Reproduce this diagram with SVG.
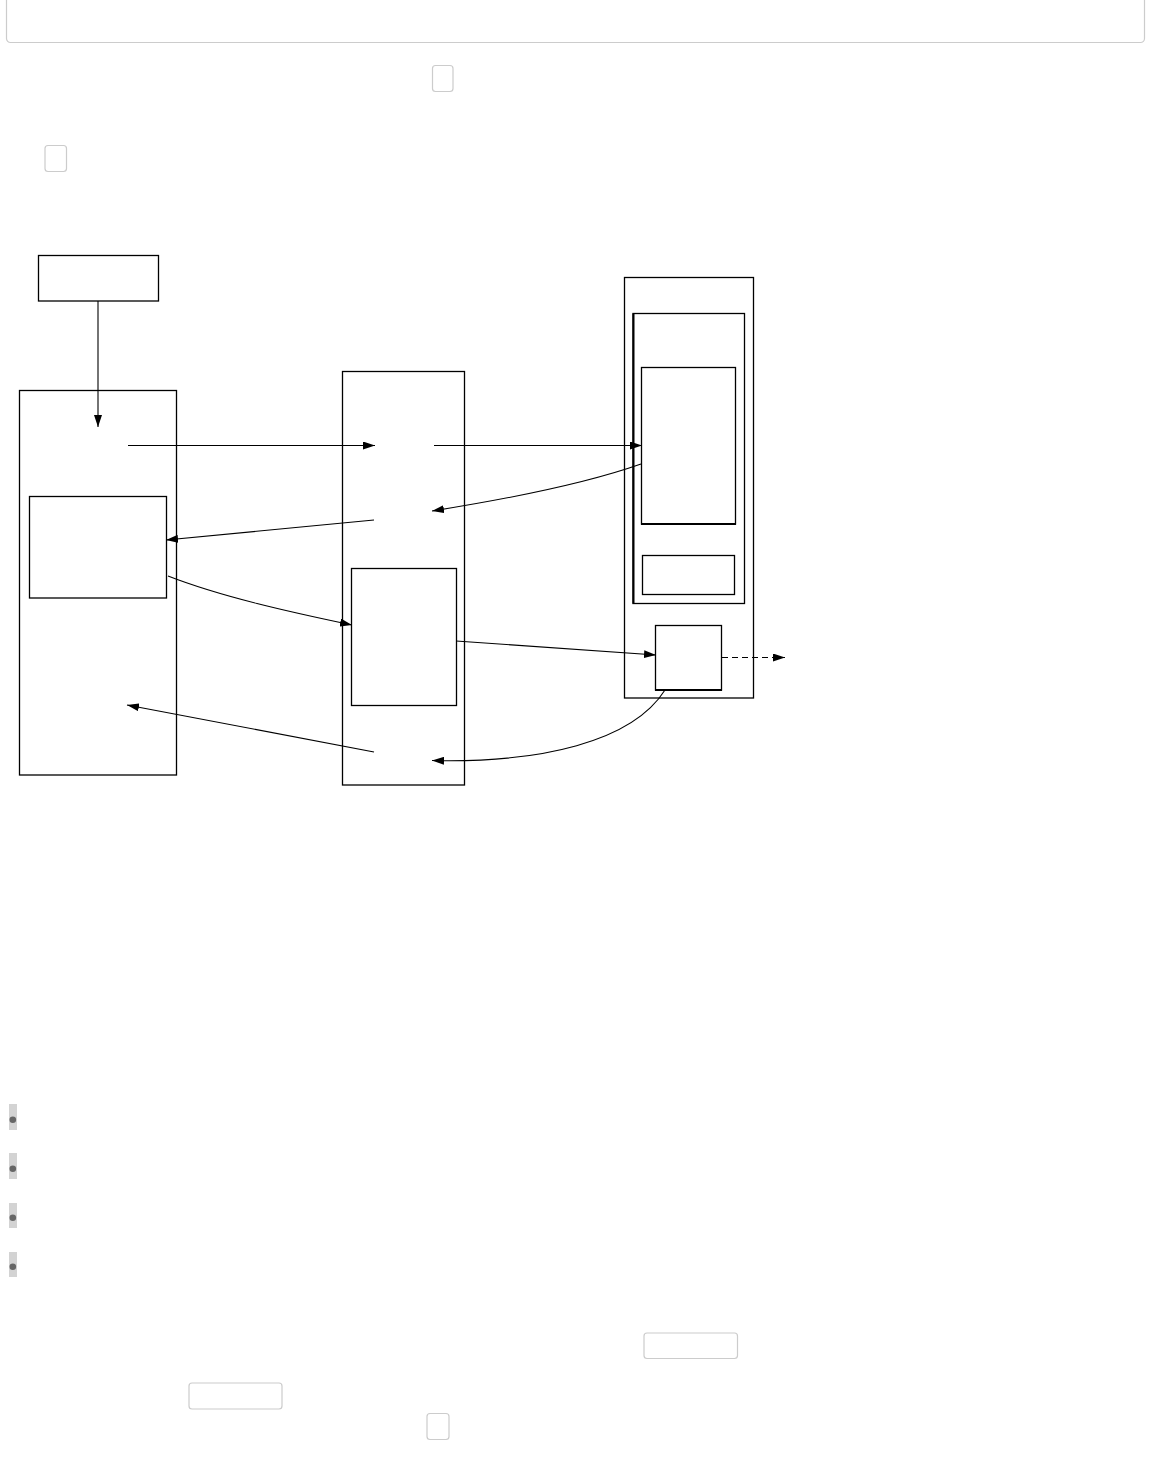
<svg xmlns="http://www.w3.org/2000/svg" width="1152" height="1466" viewBox="0 0 1152 1466">
<style>
.ui{fill:#fff;stroke:#cccccc;stroke-width:1.2}
.n{fill:#fff;stroke:#000;stroke-width:1.3}
.c{fill:none;stroke:#000;stroke-width:1.1}
.bar{fill:#d3d3d3}
.dot{fill:#666}
</style>
<defs>
<marker id="ah" viewBox="0 0 12 8" refX="12" refY="4" markerWidth="12" markerHeight="8" markerUnits="userSpaceOnUse" orient="auto">
<path d="M0,0 L12,4 L0,8 Z" fill="#000"/>
</marker>
</defs>
<rect width="1152" height="1466" fill="#fff"/>
<g id="chrome">
<rect class="ui" x="6.5" y="-6" width="1138" height="48.5" rx="4"/>
<rect class="ui" x="432.5" y="65.5" width="20.5" height="26" rx="3"/>
<rect class="ui" x="45" y="145.5" width="21.5" height="26" rx="3"/>
</g>
<g id="source"><rect class="n" x="38.5" y="255.5" width="120" height="45.5"/></g>
<g id="left-column"><rect class="n" x="19.5" y="390.5" width="157" height="384.5"/></g>
<g id="left-inner"><rect class="n" x="29.5" y="496.5" width="137" height="101.5"/></g>
<g id="middle-column"><rect class="n" x="342.5" y="371.5" width="122" height="413.5"/></g>
<g id="middle-inner"><rect class="n" x="351.5" y="568.5" width="105" height="137"/></g>
<g id="right-column"><rect class="n" x="624.5" y="277.5" width="129" height="420.5"/></g>
<g id="right-group">
<rect class="n" x="633" y="313.5" width="111.5" height="290"/>
<line x1="633.5" y1="313.5" x2="633.5" y2="603.5" stroke="#000" stroke-width="2"/>
</g>
<g id="right-tall"><rect class="n" x="641.5" y="367.5" width="94" height="156.5"/>
<line x1="641" y1="524" x2="736" y2="524" stroke="#000" stroke-width="1.8"/></g>
<g id="right-small"><rect class="n" x="642.5" y="555.5" width="92" height="39"/></g>
<g id="right-square"><rect class="n" x="655.5" y="625.5" width="66" height="64.5"/>
<line x1="655" y1="690" x2="722" y2="690" stroke="#000" stroke-width="1.8"/></g>
<g id="connectors">
<path class="c" d="M98,301 L98,427" marker-end="url(#ah)"/>
<path class="c" d="M128,445.5 L375,445.5" marker-end="url(#ah)"/>
<path class="c" d="M434,445.5 L642,445.5" marker-end="url(#ah)"/>
<path class="c" d="M641,464 C590,482 520,497 432,511" marker-end="url(#ah)"/>
<path class="c" d="M374,520 L166,540" marker-end="url(#ah)"/>
<path class="c" d="M168,576 C222,597 290,612 352,625" marker-end="url(#ah)"/>
<path class="c" d="M456,641 L656,655" marker-end="url(#ah)"/>
<path class="c" d="M722,657.5 L785,657.5" stroke-dasharray="6,4" marker-end="url(#ah)"/>
<path class="c" d="M665,690 C632,742 540,763 432,760.5" marker-end="url(#ah)"/>
<path class="c" d="M374,752 L127,705" marker-end="url(#ah)"/>
</g>
<g id="bullets">
<rect class="bar" x="9" y="1104" width="8" height="26"/><circle class="dot" cx="12.8" cy="1119.7" r="3.3"/>
<rect class="bar" x="9" y="1153" width="8" height="26"/><circle class="dot" cx="12.8" cy="1168.7" r="3.3"/>
<rect class="bar" x="9" y="1203" width="8" height="25"/><circle class="dot" cx="12.8" cy="1217.7" r="3.3"/>
<rect class="bar" x="9" y="1252" width="8" height="25"/><circle class="dot" cx="12.8" cy="1266.7" r="3.3"/>
</g>
<g id="buttons">
<rect class="ui" x="644" y="1333" width="93.5" height="25.5" rx="3"/>
<rect class="ui" x="189" y="1383" width="93" height="26" rx="3"/>
<rect class="ui" x="427" y="1413.5" width="22" height="26" rx="3"/>
</g>
</svg>
